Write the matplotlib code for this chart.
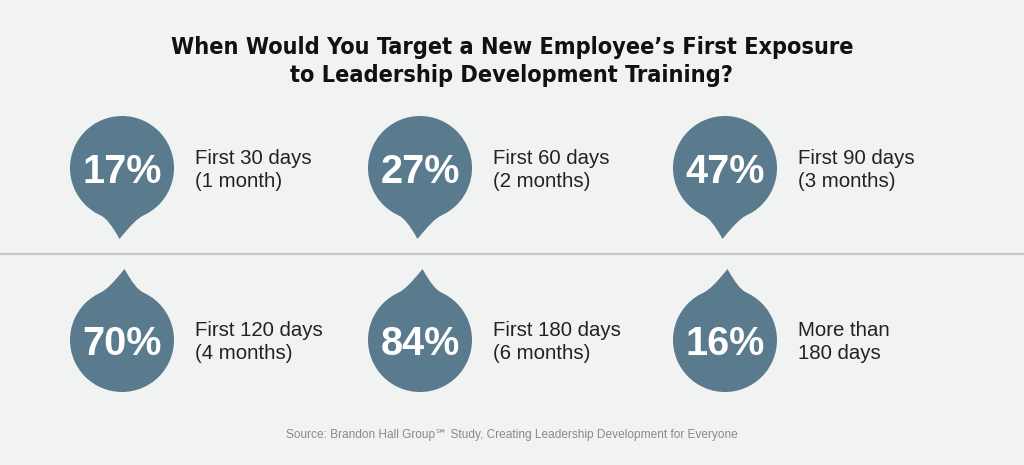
#!/usr/bin/env python3
'''
Infographic: when would you target a new employee's first exposure
to leadership development training.
'''
import numpy as np
import matplotlib
matplotlib.use('Agg')
import matplotlib.pyplot as plt
from matplotlib.patches import Circle, PathPatch
from matplotlib.path import Path


percents = [17, 27, 47, 70, 84, 16]
labels_1 = ['First 30 days', 'First 60 days', 'First 90 days',
            'First 120 days', 'First 180 days', 'More than']
labels_2 = ['(1 month)', '(2 months)', '(3 months)',
            '(4 months)', '(6 months)', '180 days']
title_lines = ['When Would You Target a New Employee\u2019s First Exposure',
               'to Leadership Development Training?']
source = ('Source: Brandon Hall Group\u2120 Study, '
          'Creating Leadership Development for Everyone')

BG = '#f1f2f2'
PIN = '#5a7a8e'
W, H = 1024, 465


def draw_pin(ax, cx, cy, d, tip_dx, r=52):
    '''circle with a pointed tail, d=+1 tail down, d=-1 tail up'''
    ax.add_patch(Circle((cx, cy), r, facecolor=PIN, edgecolor='none'))
    th = np.radians(24)
    tip = (cx + tip_dx, cy + d * 71)
    left = (cx - r * np.sin(th), cy + d * r * np.cos(th))
    right = (cx + r * np.sin(th), cy + d * r * np.cos(th))
    cl = (left[0] + 8.4 * np.cos(th), left[1] + d * 8.4 * np.sin(th))
    cr = (right[0] - 8.4 * np.cos(th), right[1] + d * 8.4 * np.sin(th))
    verts = [(cx, cy), left, cl, tip, cr, right, (cx, cy)]
    codes = [Path.MOVETO, Path.LINETO, Path.CURVE3, Path.CURVE3,
             Path.CURVE3, Path.CURVE3, Path.CLOSEPOLY]
    ax.add_patch(PathPatch(Path(verts, codes), facecolor=PIN,
                           edgecolor='none'))


fig = plt.figure(figsize=(W / 100, H / 100), dpi=100, facecolor=BG)
ax = fig.add_axes([0, 0, 1, 1])
ax.set_xlim(0, W)
ax.set_ylim(H, 0)
ax.set_facecolor(BG)
ax.axis('off')

sans = ['Liberation Sans', 'DejaVu Sans']
narrow = ['DejaVu Sans Condensed', 'DejaVu Sans']

# title
for k, line in enumerate(title_lines):
    ax.text(512, 54 + 28 * k, line, ha='center', va='baseline',
            fontsize=16.8, fontweight='bold', fontstretch='condensed',
            family=narrow, color='#111111')

# separator
ax.plot([0, W], [254, 254], '-', color='#c6c8cb', lw=1.6,
        solid_capstyle='butt')

col_x = [122, 420, 725]
row_y = [168, 340]
for i, pct in enumerate(percents):
    row, col = divmod(i, 3)
    cx, cy = col_x[col], row_y[row]
    d = 1 if row == 0 else -1
    draw_pin(ax, cx, cy, d, tip_dx=-2.5 * d)
    ax.text(cx, cy + 14.5, f'{pct}%', ha='center', va='baseline',
            fontsize=28.5, fontweight='bold', family=sans, color='white')
    tx = cx + 73
    ax.text(tx, cy - 4, labels_1[i], ha='left', va='baseline',
            fontsize=14.7, family=sans, color='#222222')
    ax.text(tx, cy + 19, labels_2[i], ha='left', va='baseline',
            fontsize=14.7, family=sans, color='#222222')

ax.text(512, 438, source, ha='center', va='baseline', fontsize=8.6,
        family=sans, color='#8a8a8a')

fig.savefig('out.png', dpi=100, facecolor=BG)
